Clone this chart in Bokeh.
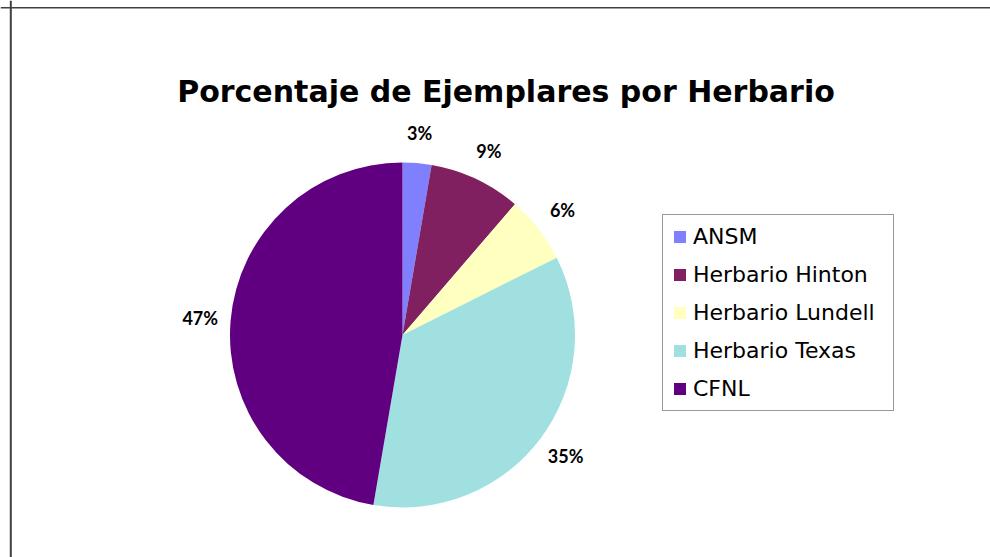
import math
from bokeh.plotting import figure
from bokeh.models import ColumnDataSource, Range1d, Legend, LegendItem, Label, Span
from bokeh.core.properties import value
from bokeh.embed import file_html
from bokeh.resources import INLINE

# ---- data ----
categories = ["ANSM", "Herbario Hinton", "Herbario Lundell", "Herbario Texas", "CFNL"]
percentages = [2.7, 8.6, 6.3, 35.1, 47.3]
colors = ["#8080FF", "#802060", "#FFFFC0", "#A0E0E0", "#600080"]
title_text = "Porcentaje de Ejemplares por Herbario"

W, H = 990, 557
CX, CY, R = 402.0, 222.5, 172.5
LABEL_R = 203.0

total = sum(percentages)
starts, ends, lx, ly, labels = [], [], [], [], []
cum = 0.0
for v in percentages:
    f0 = cum / total
    cum += v
    f1 = cum / total
    starts.append(math.pi / 2 - f0 * 2 * math.pi)
    ends.append(math.pi / 2 - f1 * 2 * math.pi)
    mid = math.pi / 2 - (f0 + f1) / 2 * 2 * math.pi
    lx.append(CX + LABEL_R * math.cos(mid))
    ly.append(CY + LABEL_R * math.sin(mid))
    labels.append(f"{round(v / total * 100)}%")

src = ColumnDataSource(dict(cat=categories, start=starts, end=ends, color=colors))
lsrc = ColumnDataSource(dict(x=lx, y=ly, text=labels))

p = figure(width=W, height=H, output_backend="svg", toolbar_location=None,
           x_range=Range1d(0, W), y_range=Range1d(0, H),
           x_axis_type=None, y_axis_type=None, min_border=0)
p.grid.visible = False
p.outline_line_color = None
p.background_fill_color = "white"
p.border_fill_color = "white"

# chart area border (top and left visible in reference)
p.add_layout(Span(location=10.3, dimension="height", line_color="#404040", line_width=2))
p.add_layout(Span(location=H - 7.3, dimension="width", line_color="#404040", line_width=1.5))

wedges = p.wedge(x=CX, y=CY, radius=R, start_angle="start", end_angle="end",
                 direction="clock", fill_color="color", line_color=None, source=src)

p.text(x="x", y="y", text="text", source=lsrc, text_align="center", text_baseline="middle",
       text_font=value("Lato"), text_font_style="bold", text_font_size=value("18px"),
       text_color="black")

p.add_layout(Label(x=505.5, y=H - 91, text=title_text, text_align="center",
                   text_baseline="alphabetic", text_font="DejaVu Sans", text_font_style="bold",
                   text_font_size="30px", text_color="black"))

items = [LegendItem(label=c, renderers=[wedges], index=i) for i, c in enumerate(categories)]
legend = Legend(items=items, location=(662, 146), margin=0, padding=9, spacing=13,
                glyph_width=15, glyph_height=15, label_standoff=6, label_width=191,
                label_text_font="DejaVu Sans", label_text_font_size="22px",
                label_text_color="black",
                border_line_color="#333333", border_line_width=1,
                background_fill_color="white", background_fill_alpha=1.0)
p.add_layout(legend)

open("out.html", "w").write(file_html(p, INLINE))
